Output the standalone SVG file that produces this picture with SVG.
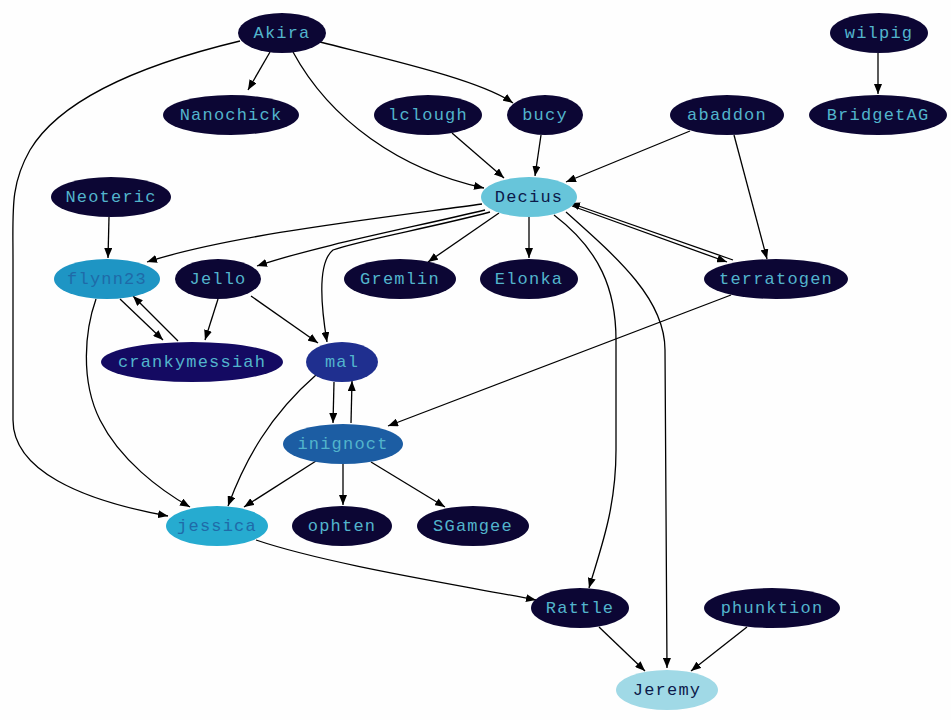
<svg xmlns="http://www.w3.org/2000/svg" width="951" height="720" viewBox="0 0 951 720">
<defs>
<marker id="ah" markerWidth="11" markerHeight="8" refX="10" refY="4" orient="auto" markerUnits="userSpaceOnUse">
<path d="M0,0 L10,4 L0,8 Z" fill="#000"/>
</marker>
<style>
.e{fill:none;stroke:#000;stroke-width:1.3;marker-end:url(#ah)}
.n ellipse{fill:#0c0634}
.n text{font-family:"Liberation Mono","Courier New",monospace;font-size:17px;letter-spacing:1.2px;fill:#52b4cc;text-anchor:middle}
</style>
</defs>
<rect width="951" height="720" fill="#fefefe"/>
<g id="edges">
<path class="e" d="M270,52 L248,90"/>
<path class="e" d="M320,42 C390,60 480,80 513,103"/>
<path class="e" d="M293,52 C330,120 400,170 484,188"/>
<path class="e" d="M240,41 C140,65 60,100 30,150 C10,185 13,210 13,260 L13,420 C13,470 80,500 168,516"/>
<path class="e" d="M452,133 L504,178"/>
<path class="e" d="M541,135 L535,176"/>
<path class="e" d="M690,131 L566,182"/>
<path class="e" d="M734,135 L767,259"/>
<path class="e" d="M878,53 L878,94"/>
<path class="e" d="M109,217 L108,258"/>
<path class="e" d="M482,204 C380,218 230,235 147,262"/>
<path class="e" d="M485,210 C410,228 320,245 257,266"/>
<path class="e" d="M490,212 C430,228 360,240 333,250 C318,262 320,300 327,342"/>
<path class="e" d="M499,213 L428,262"/>
<path class="e" d="M529,217 L529,258"/>
<path class="e" d="M572,206 L727,262"/>
<path class="e" d="M733,260 L570,203"/>
<path class="e" d="M554,215 C600,250 616,290 616,340 L616,450 C616,510 600,550 589,588"/>
<path class="e" d="M566,212 C620,260 665,300 665,350 L667,668"/>
<path class="e" d="M120,299 L163,340"/>
<path class="e" d="M178,341 L133,296"/>
<path class="e" d="M96,299 C85,330 80,380 100,420 C120,460 160,490 190,507"/>
<path class="e" d="M218,299 L205,340"/>
<path class="e" d="M251,296 L318,343"/>
<path class="e" d="M334,382 L333,423"/>
<path class="e" d="M351,423 L352,381"/>
<path class="e" d="M316,375 C270,415 245,460 228,506"/>
<path class="e" d="M731,295 L388,426"/>
<path class="e" d="M316,461 L244,507"/>
<path class="e" d="M343,464 L343,505"/>
<path class="e" d="M371,462 L445,507"/>
<path class="e" d="M256,540 C330,565 460,585 536,600"/>
<path class="e" d="M599,627 L645,671"/>
<path class="e" d="M747,627 L691,671"/>
</g>
<g id="Akira" class="n"><ellipse cx="282" cy="33" rx="44" ry="20"/><text x="282" y="38">Akira</text></g>
<g id="Nanochick" class="n"><ellipse cx="231" cy="115" rx="68" ry="20"/><text x="231" y="120">Nanochick</text></g>
<g id="lclough" class="n"><ellipse cx="428" cy="115" rx="54" ry="20"/><text x="428" y="120">lclough</text></g>
<g id="bucy" class="n"><ellipse cx="545" cy="115" rx="38" ry="20"/><text x="545" y="120">bucy</text></g>
<g id="abaddon" class="n"><ellipse cx="727" cy="115" rx="57" ry="20"/><text x="727" y="120">abaddon</text></g>
<g id="wilpig" class="n"><ellipse cx="879" cy="33" rx="49" ry="20"/><text x="879" y="38">wilpig</text></g>
<g id="BridgetAG" class="n"><ellipse cx="878" cy="115" rx="69" ry="20"/><text x="878" y="120">BridgetAG</text></g>
<g id="Decius" class="n"><ellipse cx="529" cy="197" rx="48" ry="20" style="fill:#67c5da"/><text x="529" y="202" style="fill:#0c1a4a">Decius</text></g>
<g id="Neoteric" class="n"><ellipse cx="111" cy="197" rx="60" ry="20"/><text x="111" y="202">Neoteric</text></g>
<g id="flynn23" class="n"><ellipse cx="107" cy="279" rx="53" ry="20" style="fill:#1e95c4"/><text x="107" y="284" style="fill:#1f6aa8">flynn23</text></g>
<g id="Jello" class="n"><ellipse cx="218" cy="279" rx="43" ry="20"/><text x="218" y="284">Jello</text></g>
<g id="Gremlin" class="n"><ellipse cx="400" cy="279" rx="56" ry="20"/><text x="400" y="284">Gremlin</text></g>
<g id="Elonka" class="n"><ellipse cx="529" cy="279" rx="49" ry="20"/><text x="529" y="284">Elonka</text></g>
<g id="terratogen" class="n"><ellipse cx="776" cy="279" rx="72" ry="20"/><text x="776" y="284">terratogen</text></g>
<g id="crankymessiah" class="n"><ellipse cx="192" cy="362" rx="91" ry="20" style="fill:#140a62"/><text x="192" y="367">crankymessiah</text></g>
<g id="mal" class="n"><ellipse cx="342" cy="362" rx="36" ry="20" style="fill:#1f2f8f"/><text x="342" y="367">mal</text></g>
<g id="inignoct" class="n"><ellipse cx="343" cy="444" rx="60" ry="20" style="fill:#1c5da3"/><text x="343" y="449">inignoct</text></g>
<g id="jessica" class="n"><ellipse cx="217" cy="526" rx="51" ry="20" style="fill:#26abd0"/><text x="217" y="531" style="fill:#1f6aa8">jessica</text></g>
<g id="ophten" class="n"><ellipse cx="342" cy="526" rx="50" ry="20"/><text x="342" y="531">ophten</text></g>
<g id="SGamgee" class="n"><ellipse cx="473" cy="526" rx="56" ry="20"/><text x="473" y="531">SGamgee</text></g>
<g id="Rattle" class="n"><ellipse cx="580" cy="608" rx="49" ry="20"/><text x="580" y="613">Rattle</text></g>
<g id="phunktion" class="n"><ellipse cx="772" cy="608" rx="68" ry="20"/><text x="772" y="613">phunktion</text></g>
<g id="Jeremy" class="n"><ellipse cx="667" cy="690" rx="51" ry="20" style="fill:#a0d9e6"/><text x="667" y="695" style="fill:#0c1a4a">Jeremy</text></g>
</svg>
